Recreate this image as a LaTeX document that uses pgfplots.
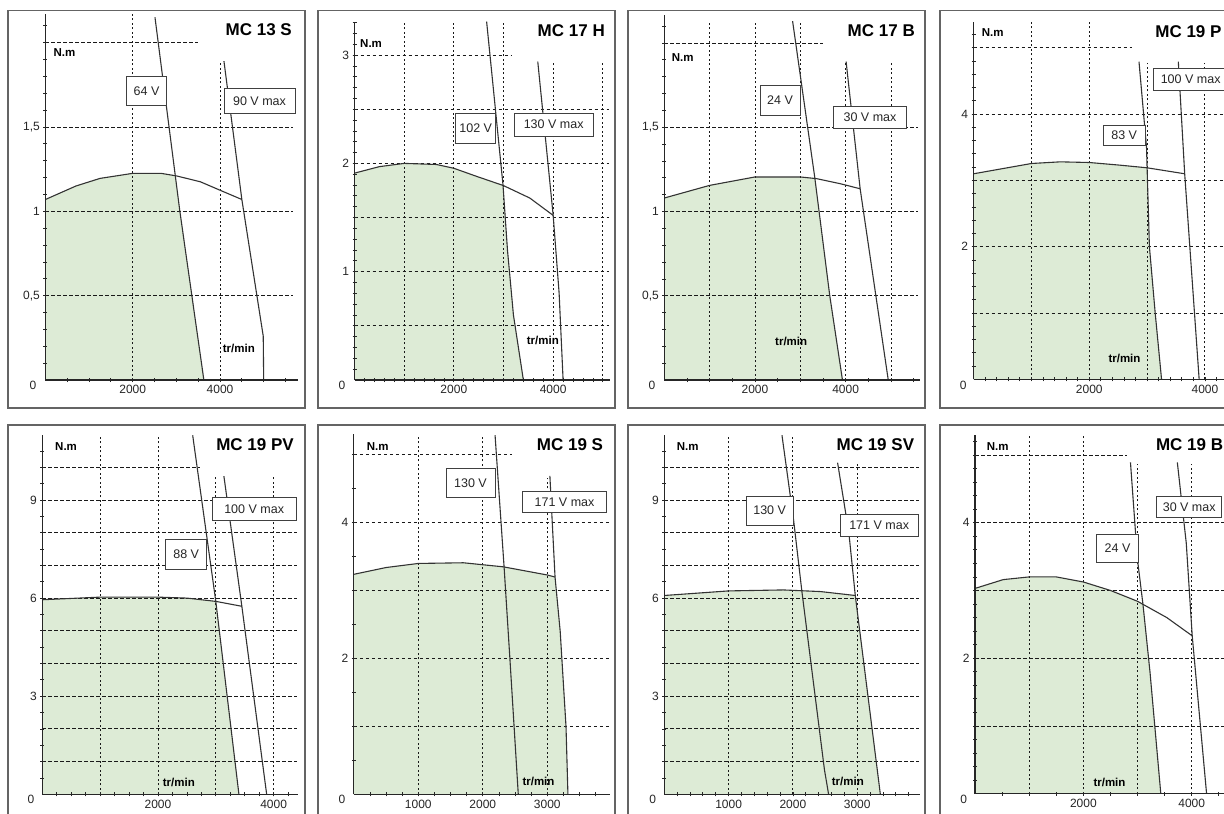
\documentclass[border=0pt]{standalone}
\usepackage{fontspec}
\setmainfont{Liberation Sans}
\usepackage{pgfplots}
\pgfplotsset{compat=1.18}
\definecolor{fillg}{RGB}{221,235,214}
\definecolor{framec}{RGB}{100,100,100}
\tikzset{
 hgrid/.style={black!90, line width=0.9pt, dash pattern=on 3.5pt off 2.5pt},
 vgrid/.style={black!90, line width=0.9pt, dash pattern=on 2pt off 2.5pt},
 frame/.style={draw=framec, line width=1.8pt},
 lblbox/.style={draw=black!75, fill=white, line width=0.8pt},
 lbltext/.style={font=\fontsize{12.5}{12.5}\selectfont, text=black!85, inner sep=0pt},
 unit/.style={font=\bfseries\fontsize{11.5}{11.5}\selectfont, inner sep=0pt, anchor=west},
 ttl/.style={font=\bfseries\fontsize{17}{17}\selectfont, inner sep=0pt, anchor=east},
 zero/.style={font=\fontsize{12}{12}\selectfont, inner sep=0pt, text=black!85},
}
\newcommand\setpanel[6]{\def\ox{#1}\def\oy{#2}\def\sx{#3}\def\sy{#4}\def\xM{#5}\def\yM{#6}\pgfmathsetmacro\W{#5*#3}\pgfmathsetmacro\H{#6*#4}}
\pgfplotsset{
 panel/.style={scale only axis, anchor=south west, axis lines=left, axis on top,
   axis line style={-, line width=1.1pt, black!85},
   xmin=0, ymin=0, tick align=center, major tick length=4pt, minor tick length=4pt,
   tick style={black!85, line width=0.8pt},
   tick label style={font=\fontsize{12}{12}\selectfont, text=black!85},
   /pgf/number format/assume math mode=true,
   at={(\ox pt,-\oy pt)}, width=\W pt, height=\H pt, xmax=\xM, ymax=\yM},
 curve/.style={black!80, line width=1.1pt},
 area/.style={fill=fillg, draw=none},
}
\newcommand\hg[3]{\draw[hgrid] (axis cs:#2,#1) -- (axis cs:#3,#1);}
\newcommand\vg[3]{\draw[vgrid] (axis cs:#1,#2) -- (axis cs:#1,#3);}
\newcommand\lbl[5]{\draw[lblbox] (#1pt,-#2pt) rectangle (#3pt,-#4pt); \node[lbltext] at ({(#1+#3)/2*1pt},{-(#2+#4)/2*1pt}) {#5};}
\begin{document}
\begin{tikzpicture}
\path[use as bounding box] (0,0) rectangle (1224pt,-814pt);
\clip (0,0) rectangle (1224pt,-814pt);
\fill[white] (0,0) rectangle (1224pt,-814pt);
% frames
\draw[frame] (8pt,-10.5pt) rectangle (305pt,-408pt);
\draw[frame] (318pt,-10.5pt) rectangle (615pt,-408pt);
\draw[frame] (628pt,-10.5pt) rectangle (925pt,-408pt);
\draw[frame] (940pt,-10.5pt) rectangle (1237pt,-408pt);
\draw[frame] (8pt,-425pt) rectangle (305pt,-840pt);
\draw[frame] (318pt,-425pt) rectangle (615pt,-840pt);
\draw[frame] (628pt,-425pt) rectangle (925pt,-840pt);
\draw[frame] (940pt,-425pt) rectangle (1237pt,-840pt);

% ---------------- Panel 1: MC 13 S
\setpanel{45.4}{380}{0.04365}{168.7}{5787}{2.17}
\begin{axis}[panel, xtick={2000,4000}, xticklabels={2000,4000},
  minor xtick={500,1000,...,5500}, ytick={0.5,1,1.5}, yticklabels={{0,5},1,{1,5}},
  minor ytick={0.1,0.2,...,2.15}]
\addplot[area] coordinates {(0,0)(0,1.07)(700,1.15)(1250,1.195)(2000,1.225)(2650,1.225)(2980,1.21)(3080,1.0)(3630,0)} \closedcycle;
\vg{2000}{0}{2.17}\vg{4000}{0}{1.89}
\hg{2}{0}{3500}\hg{1.5}{0}{5670}\hg{1}{0}{5670}\hg{0.5}{0}{5670}
\addplot[curve] coordinates {(0,1.07)(700,1.15)(1250,1.195)(2000,1.225)(2650,1.225)(3000,1.21)(3550,1.175)(4000,1.125)(4500,1.07)};
\addplot[curve] coordinates {(2510,2.15)(3080,1.0)(3630,0)};
\addplot[curve] coordinates {(4090,1.89)(4500,1.07)(4990,0.26)(5000,0)};
\end{axis}
\lbl{126.7}{76.7}{166.5}{105}{64 V}
\lbl{224}{88.3}{295}{113.3}{90 V max}
\node[ttl] at (292pt,-30pt) {MC 13 S};
\node[unit] at (53.3pt,-52.5pt) {N.m};
\node[unit] at (222.7pt,-348pt) {tr/min};
\node[zero] at (33pt,-385.5pt) {0};

% ---------------- Panel 2: MC 17 H
\setpanel{354.5}{380}{0.04967}{108.3}{5150}{3.31}
\begin{axis}[panel, xtick={2000,4000}, xticklabels={2000,4000},
  minor xtick={200,400,...,5000}, ytick={1,2,3}, yticklabels={1,2,3},
  minor ytick={0.1,0.2,...,3.25}]
\addplot[area] coordinates {(0,0)(0,1.91)(500,1.97)(1000,2.0)(1650,1.99)(2000,1.955)(2460,1.88)(2990,1.8)(3080,1.2)(3200,0.6)(3400,0)} \closedcycle;
\vg{1000}{0}{3.31}\vg{2000}{0}{3.31}\vg{3000}{0}{3.31}\vg{4000}{0}{2.94}\vg{5000}{0}{2.94}
\hg{3}{0}{3165}\hg{2.5}{0}{5130}\hg{2}{0}{5130}\hg{1.5}{0}{5130}\hg{1}{0}{5130}\hg{0.5}{0}{5130}
\addplot[curve] coordinates {(0,1.91)(500,1.97)(1000,2.0)(1650,1.99)(2000,1.955)(2460,1.88)(3000,1.795)(3530,1.68)(4000,1.52)};
\addplot[curve] coordinates {(2660,3.31)(2990,1.8)(3080,1.2)(3200,0.6)(3400,0)};
\addplot[curve] coordinates {(3690,2.94)(4000,1.52)(4120,0.8)(4200,0)};
\end{axis}
\lbl{455.7}{113.3}{495.7}{143.3}{102 V}
\lbl{514}{113.3}{593.3}{136}{130 V max}
\node[ttl] at (605pt,-30.8pt) {MC 17 H};
\node[unit] at (360pt,-44pt) {N.m};
\node[unit] at (526.7pt,-340pt) {tr/min};
\node[zero] at (342pt,-385.5pt) {0};

% ---------------- Panel 3: MC 17 B
\setpanel{664.3}{380}{0.04533}{168.5}{5650}{2.166}
\begin{axis}[panel, xtick={2000,4000}, xticklabels={2000,4000},
  minor xtick={500,1000,...,5500}, ytick={0.5,1,1.5}, yticklabels={{0,5},1,{1,5}},
  minor ytick={0.1,0.2,...,2.15}]
\addplot[area] coordinates {(0,0)(0,1.08)(1000,1.155)(2000,1.205)(3000,1.205)(3320,1.198)(3650,0.5)(3930,0)} \closedcycle;
\vg{1000}{0}{2.13}\vg{2000}{0}{2.13}\vg{3000}{0}{2.13}\vg{4000}{0}{1.88}\vg{5000}{0}{1.88}
\hg{2}{0}{3505}\hg{1.5}{0}{5600}\hg{1}{0}{5600}\hg{0.5}{0}{5600}
\addplot[curve] coordinates {(0,1.08)(1000,1.155)(2000,1.205)(3000,1.205)(3360,1.195)(3880,1.165)(4320,1.135)};
\addplot[curve] coordinates {(2830,2.13)(3320,1.2)(3650,0.5)(3930,0)};
\addplot[curve] coordinates {(4010,1.89)(4320,1.135)(4940,0)};
\end{axis}
\lbl{760}{85}{800}{115}{24 V}
\lbl{833.3}{106.7}{906.7}{128.3}{30 V max}
\node[ttl] at (915pt,-30.8pt) {MC 17 B};
\node[unit] at (671.7pt,-57.5pt) {N.m};
\node[unit] at (775pt,-341.7pt) {tr/min};
\node[zero] at (652pt,-385.5pt) {0};

% ---------------- Panel 4: MC 19 P
\setpanel{973.6}{379.3}{0.05783}{66.3}{4440}{5.39}
\begin{axis}[panel, xtick={2000,4000}, xticklabels={2000,4000},
  minor xtick={200,400,...,4400}, ytick={2,4}, yticklabels={2,4},
  minor ytick={0.2,0.4,...,5.3}]
\addplot[area] coordinates {(0,0)(0,3.1)(1000,3.255)(1500,3.28)(2000,3.27)(2530,3.23)(3000,3.19)(3040,2.0)(3140,1.0)(3250,0)} \closedcycle;
\vg{1000}{0}{5.39}\vg{2000}{0}{5.39}\vg{3000}{0}{4.77}\vg{4000}{0}{4.77}
\hg{5}{0}{2734}\hg{4}{0}{4420}\hg{3}{0}{4420}\hg{2}{0}{4420}\hg{1}{0}{4420}
\addplot[curve] coordinates {(0,3.1)(1000,3.255)(1500,3.28)(2000,3.27)(2530,3.23)(3000,3.19)(3650,3.1)};
\addplot[curve] coordinates {(2860,4.79)(2990,3.5)(3000,3.19)(3040,2.0)(3140,1.0)(3250,0)};
\addplot[curve] coordinates {(3540,4.79)(3650,3.1)(3900,0)};
\end{axis}
\lbl{1103.3}{125}{1145}{145}{83 V}
\lbl{1153.3}{68.3}{1228}{90}{100 V max}
\node[ttl] at (1221.7pt,-31.7pt) {MC 19 P};
\node[unit] at (981.7pt,-32.5pt) {N.m};
\node[unit] at (1108.3pt,-358.3pt) {tr/min};
\node[zero] at (963.3pt,-385pt) {0};

% ---------------- Panel 5: MC 19 PV
\setpanel{42.4}{794.3}{0.0578}{32.7}{4427}{11.0}
\begin{axis}[panel, xtick={2000,4000}, xticklabels={2000,4000},
  minor xtick={250,500,...,4250}, ytick={3,6,9}, yticklabels={3,6,9},
  minor ytick={0.5,1,...,10.5}]
\addplot[area] coordinates {(0,0)(0,5.95)(1000,6.03)(2000,6.03)(2500,6.0)(3000,5.9)(3400,0)} \closedcycle;
\vg{1000}{0}{11}\vg{2000}{0}{11}\vg{3000}{0}{9.7}\vg{4000}{0}{9.7}
\hg{10}{0}{2727}\hg{9}{0}{4400}\hg{8}{0}{4400}\hg{7}{0}{4400}\hg{6}{0}{4400}\hg{5}{0}{4400}\hg{4}{0}{4400}\hg{3}{0}{4400}\hg{2}{0}{4400}\hg{1}{0}{4400}
\addplot[curve] coordinates {(0,5.95)(1000,6.03)(2000,6.03)(2500,6.0)(3000,5.9)(3450,5.75)};
\addplot[curve] coordinates {(2600,10.98)(3000,5.9)(3400,0)};
\addplot[curve] coordinates {(3140,9.73)(3450,5.76)(3880,0)};
\end{axis}
\lbl{212.3}{497.7}{296}{520.3}{100 V max}
\lbl{165.7}{539.3}{206.7}{569.3}{88 V}
\node[ttl] at (294pt,-444.3pt) {MC 19 PV};
\node[unit] at (55pt,-446.5pt) {N.m};
\node[unit] at (162.7pt,-782.7pt) {tr/min};
\node[zero] at (31pt,-799.3pt) {0};

% ---------------- Panel 6: MC 19 S
\setpanel{353.8}{794.3}{0.0645}{67.9}{3972}{5.30}
\begin{axis}[panel, xtick={1000,2000,3000}, xticklabels={1000,2000,3000},
  minor xtick={250,500,...,3750}, ytick={2,4}, yticklabels={2,4},
  minor ytick={0.5,1,...,5}]
\addplot[area] coordinates {(0,0)(0,3.24)(500,3.34)(1000,3.40)(1700,3.41)(2320,3.35)(3000,3.23)(3120,3.2)(3200,2.4)(3290,1.0)(3320,0)} \closedcycle;
\vg{1000}{0}{5.3}\vg{2000}{0}{5.3}\vg{3000}{0}{4.66}
\hg{5}{0}{2448}\hg{4}{0}{3950}\hg{3}{0}{3950}\hg{2}{0}{3950}\hg{1}{0}{3950}
\addplot[curve] coordinates {(0,3.24)(500,3.34)(1000,3.40)(1700,3.41)(2320,3.35)(3000,3.23)(3120,3.2)};
\addplot[curve] coordinates {(2190,5.29)(2330,3.35)(2420,2.0)(2550,0)};
\addplot[curve] coordinates {(3040,4.69)(3120,3.2)(3200,2.4)(3290,1.0)(3320,0)};
\end{axis}
\lbl{446}{468.3}{495}{497.7}{130 V}
\lbl{522.3}{491}{606.7}{512.7}{171 V max}
\node[ttl] at (603.3pt,-444.3pt) {MC 19 S};
\node[unit] at (366.7pt,-446.5pt) {N.m};
\node[unit] at (522.3pt,-781pt) {tr/min};
\node[zero] at (342pt,-799.3pt) {0};

% ---------------- Panel 7: MC 19 SV
\setpanel{664.3}{794.3}{0.0643}{32.7}{3981}{11.0}
\begin{axis}[panel, xtick={1000,2000,3000}, xticklabels={1000,2000,3000},
  minor xtick={200,400,...,3800}, ytick={3,6,9}, yticklabels={3,6,9},
  minor ytick={0.5,1,...,10.5}]
\addplot[area] coordinates {(0,0)(0,6.08)(1000,6.22)(1850,6.25)(2430,6.2)(2970,6.08)(3360,0)} \closedcycle;
\vg{1000}{0}{11}\vg{2000}{0}{11}\vg{3000}{0}{10.1}
\hg{10}{0}{3955}\hg{9}{0}{3955}\hg{8}{0}{3955}\hg{7}{0}{3955}\hg{6}{0}{3955}\hg{5}{0}{3955}\hg{4}{0}{3955}\hg{3}{0}{3955}\hg{2}{0}{3955}\hg{1}{0}{3955}
\addplot[curve] coordinates {(0,6.08)(1000,6.22)(1850,6.25)(2430,6.2)(2970,6.08)};
\addplot[curve] coordinates {(1830,10.98)(2010,8.4)(2140,6.2)(2490,0.76)(2555,0)};
\addplot[curve] coordinates {(2695,10.14)(2870,8.0)(2970,6.08)(3360,0)};
\end{axis}
\lbl{746}{496}{793.3}{525.3}{130 V}
\lbl{840}{514.3}{918.3}{536}{171 V max}
\node[ttl] at (914.3pt,-444.3pt) {MC 19 SV};
\node[unit] at (676.7pt,-446.5pt) {N.m};
\node[unit] at (831.7pt,-781pt) {tr/min};
\node[zero] at (652.7pt,-799.3pt) {0};

% ---------------- Panel 8: MC 19 B
\setpanel{975}{793.7}{0.05417}{67.75}{4726}{5.30}
\begin{axis}[panel, xtick={2000,4000}, xticklabels={2000,4000},
  minor xtick={500,1000,...,4500}, ytick={2,4}, yticklabels={2,4},
  minor ytick={0.2,0.4,...,5.2}]
\addplot[area] coordinates {(0,0)(0,3.03)(520,3.16)(1000,3.2)(1500,3.2)(2000,3.125)(2500,3.0)(3000,2.84)(3100,2.8)(3230,1.8)(3430,0)} \closedcycle;
\vg{1000}{0}{5.3}\vg{2000}{0}{5.3}\vg{3000}{0}{4.86}\vg{4000}{0}{4.86}
\hg{5}{0}{2800}\hg{4}{0}{4700}\hg{3}{0}{4700}\hg{2}{0}{4700}\hg{1}{0}{4700}
\addplot[curve] coordinates {(0,3.03)(520,3.16)(1000,3.2)(1500,3.2)(2000,3.125)(2500,3.0)(3000,2.84)(3540,2.6)(4010,2.33)};
\addplot[curve] coordinates {(2870,4.89)(3000,3.45)(3100,2.8)(3230,1.8)(3430,0)};
\addplot[curve] coordinates {(3735,4.89)(3900,3.7)(4010,2.33)(4275,0)};
\end{axis}
\lbl{1096.7}{534.3}{1138.3}{562.7}{24 V}
\lbl{1156.7}{496}{1221.7}{517.7}{30 V max}
\node[ttl] at (1223.3pt,-444.3pt) {MC 19 B};
\node[unit] at (986.7pt,-446.5pt) {N.m};
\node[unit] at (1093.3pt,-782.7pt) {tr/min};
\node[zero] at (963.7pt,-799.3pt) {0};
\end{tikzpicture}
\end{document}
